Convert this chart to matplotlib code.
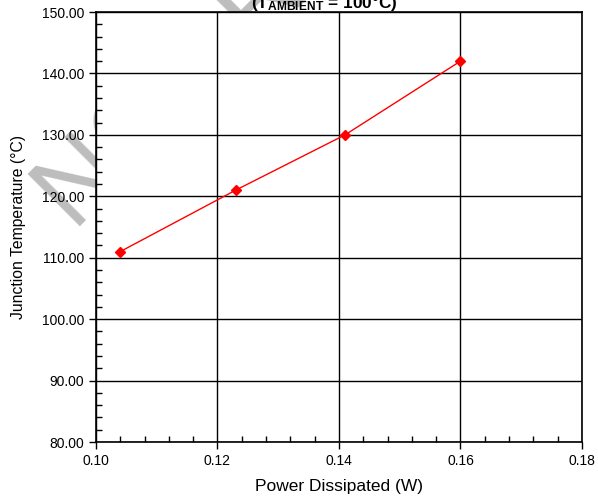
import matplotlib as mpl
mpl.use('Agg')
import matplotlib.pyplot as plt
from matplotlib.ticker import MultipleLocator, FormatStrFormatter

plt.rcParams['font.family'] = ['Liberation Sans', 'DejaVu Sans']
plt.rcParams['mathtext.fontset'] = 'custom'
plt.rcParams['mathtext.rm'] = 'Liberation Sans:bold'
plt.rcParams['mathtext.it'] = 'Liberation Sans:bold'
plt.rcParams['mathtext.bf'] = 'Liberation Sans:bold'

# measured operating points
power_w = [0.104, 0.123, 0.141, 0.160]
junction_c = [111.0, 121.0, 130.0, 142.0]

x_ticks = [0.10, 0.12, 0.14, 0.16, 0.18]
y_ticks = [80, 90, 100, 110, 120, 130, 140, 150]

fig = plt.figure(figsize=(5.98, 5.0), dpi=100)
ax = fig.add_axes([0.1605, 0.116, 0.8127, 0.86])
ax.set_zorder(2)

# stamp printed across the page, covered by the plot area
fig.text(0.125, 0.536, 'NOT RECOMMENDED', fontsize=78, color='#bdbdbd',
         rotation=45, rotation_mode='anchor', ha='left', va='baseline',
         zorder=0)

ax.plot(power_w, junction_c, color='red', lw=1, marker='D', ms=5,
        mec='red', mfc='red')

ax.set_xlim(0.10, 0.18)
ax.set_ylim(80, 150)
ax.set_xticks(x_ticks)
ax.set_yticks(y_ticks)
ax.xaxis.set_major_formatter(FormatStrFormatter('%.2f'))
ax.yaxis.set_major_formatter(FormatStrFormatter('%.2f'))
ax.xaxis.set_minor_locator(MultipleLocator(0.004))
ax.yaxis.set_minor_locator(MultipleLocator(2))
ax.tick_params(which='major', direction='out', length=5, width=1,
               labelsize=10, color='black')
ax.tick_params(which='minor', direction='in', length=4, width=1,
               color='black')
ax.grid(True, which='major', color='black', lw=1)
ax.set_axisbelow(True)
for s in ax.spines.values():
    s.set_linewidth(1.2)

ax.set_xlabel('Power Dissipated (W)', fontsize=12.5, labelpad=8)
ax.set_ylabel('Junction Temperature (°C)', fontsize=11.3, labelpad=11)

fig.text(0.543, 1 - 8 / 500, r'(T$_{\mathrm{AMBIENT}}$ = 100°C)',
         fontsize=12.4, fontweight='bold', ha='center', va='baseline')

fig.savefig('out.png', dpi=100)
